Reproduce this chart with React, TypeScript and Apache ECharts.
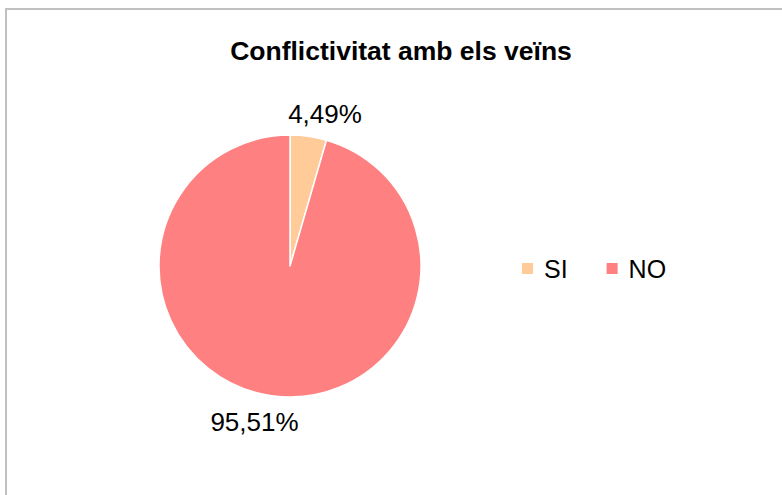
import React, { useEffect, useRef } from "react";
import * as echarts from "echarts";

const categories = ["SI", "NO"];
const values = [4.49, 95.51];
const colors = ["#FFCC99", "#FF8080"];
const titleText = "Conflictivitat amb els veïns";

export default function App() {
  const ref = useRef<HTMLDivElement>(null);
  useEffect(() => {
    document.body.style.margin = "0";
    const chart = echarts.init(ref.current!, null, { renderer: "svg" });
    const font = "'Liberation Sans', Arial, sans-serif";
    chart.setOption({
      animation: false,
      backgroundColor: "#ffffff",
      title: {
        text: titleText,
        left: 396,
        top: 32,
        textAlign: "center",
        textStyle: { fontFamily: font, fontSize: 26.5, fontWeight: "bold", color: "#000" },
      },
      legend: {
        data: categories,
        left: 515,
        top: 251,
        orient: "horizontal",
        itemWidth: 13,
        itemHeight: 13,
        itemGap: 37,
        icon: "rect",
        textStyle: { fontFamily: font, fontSize: 25, color: "#000", padding: [0, 0, 0, 5] },
      },
      graphic: [
        {
          type: "rect",
          shape: { x: 6, y: 9, width: 800, height: 520 },
          style: { fill: "none", stroke: "#c0c0c0", lineWidth: 2 },
          silent: true,
        },
      ],
      series: [
        {
          type: "pie",
          center: [290, 266],
          radius: 131,
          startAngle: 90,
          clockwise: true,
          data: categories.map((c, i) => ({ name: c, value: values[i], itemStyle: { color: colors[i] } })),
          itemStyle: { borderColor: "#ffffff", borderWidth: 1.5 },
          label: {
            show: true,
            position: "outside",
            formatter: (p: any) => p.value.toFixed(2).replace(".", ",") + "%",
            fontFamily: font,
            fontSize: 26,
            color: "#000",
          },
          labelLine: { show: false },
          labelLayout: (p: any) => {
            const w = p.labelRect.width;
            const h = p.labelRect.height;
            if (p.dataIndex === 0) return { x: 325 - w / 2, y: 114 - h / 2, align: "left", verticalAlign: "top" };
            return { x: 254.5 - w / 2, y: 422 - h / 2, align: "left", verticalAlign: "top" };
          },
        },
      ],
    });
    return () => chart.dispose();
  }, []);
  return <div ref={ref} style={{ width: 782, height: 495 }} />;
}
